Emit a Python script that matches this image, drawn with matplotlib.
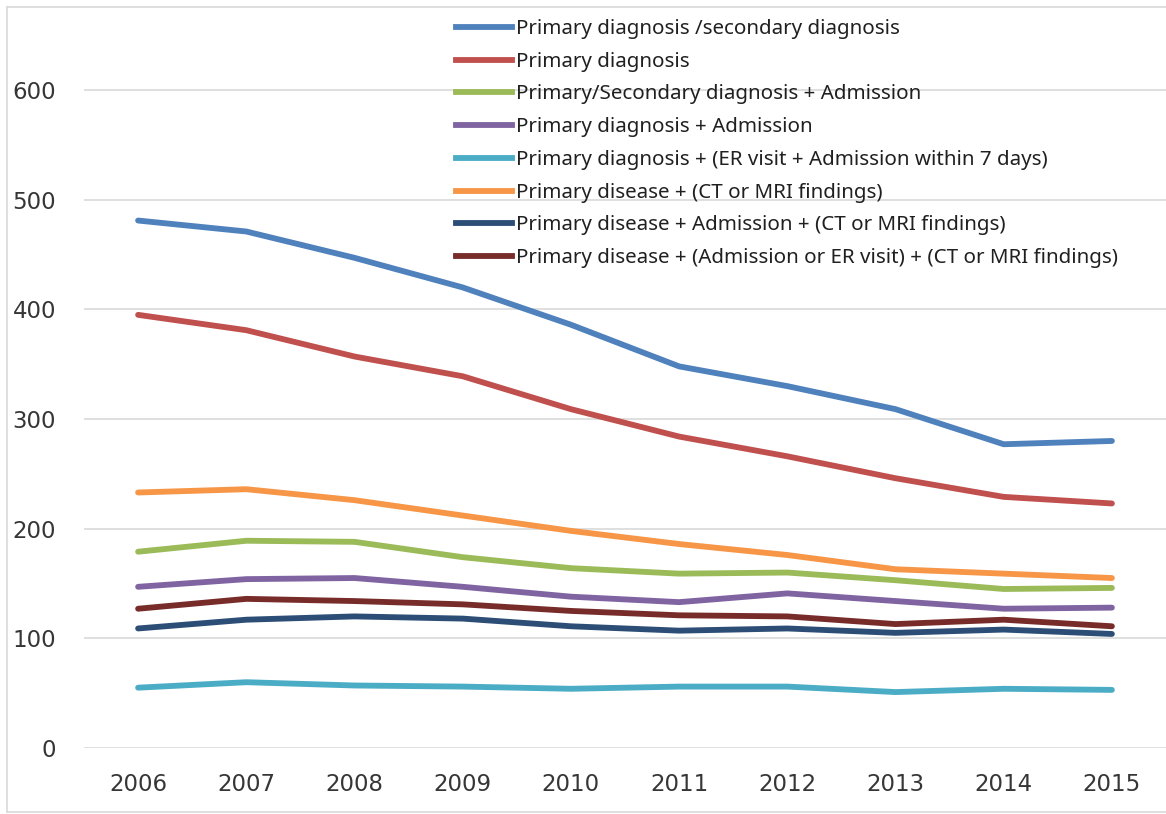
import matplotlib
matplotlib.use("Agg")
import matplotlib.pyplot as plt
from matplotlib.lines import Line2D

years = ["2006", "2007", "2008", "2009", "2010", "2011", "2012", "2013", "2014", "2015"]

prim_sec = [481, 471, 447, 420, 386, 348, 330, 309, 277, 280]
prim = [395, 381, 357, 339, 309, 284, 266, 246, 229, 223]
prim_sec_adm = [179, 189, 188, 174, 164, 159, 160, 153, 145, 146]
prim_adm = [147, 154, 155, 147, 138, 133, 141, 134, 127, 128]
prim_er = [55, 60, 57, 56, 54, 56, 56, 51, 54, 53]
dis_ct = [233, 236, 226, 212, 198, 186, 176, 163, 159, 155]
dis_adm_ct = [109, 117, 120, 118, 111, 107, 109, 105, 108, 104]
dis_adm_er_ct = [127, 136, 134, 131, 125, 121, 120, 113, 117, 111]

labels = [
    "Primary diagnosis /secondary diagnosis",
    "Primary diagnosis",
    "Primary/Secondary diagnosis + Admission",
    "Primary diagnosis + Admission",
    "Primary diagnosis + (ER visit + Admission within 7 days)",
    "Primary disease + (CT or MRI findings)",
    "Primary disease + Admission + (CT or MRI findings)",
    "Primary disease + (Admission or ER visit) + (CT or MRI findings)",
]
series = [prim_sec, prim, prim_sec_adm, prim_adm, prim_er, dis_ct, dis_adm_ct, dis_adm_er_ct]
colors = ["#4F81BD", "#C0504D", "#9BBB59", "#8064A2", "#4BACC6", "#F79646", "#2C4D75", "#772C2A"]

W, H = 1166, 814
fig = plt.figure(figsize=(W / 100, H / 100), dpi=100)
ax = fig.add_axes([84 / W, 1 - 748 / H, (1166 - 84) / W, (748 - 10) / H])

x = list(range(len(years)))
for vals, c, lab in zip(series, colors, labels):
    ax.plot(x, vals, color=c, lw=4.2, solid_capstyle="round", solid_joinstyle="round", label=lab, zorder=3)

ax.set_xlim(-0.5, len(years) - 0.5)
ax.set_ylim(0, 673)
ax.set_yticks(range(0, 700, 100))
ax.set_xticks(x)
ax.set_xticklabels(years)
ax.tick_params(length=0, labelsize=16.5, labelcolor="#363636")
ax.tick_params(axis="y", pad=20)
ax.tick_params(axis="x", pad=18)
ax.grid(axis="y", color="#D9D9D9", lw=1.2)
ax.set_axisbelow(True)
for s in ax.spines.values():
    s.set_visible(False)

handles = [Line2D([], [], color=c, lw=4.2) for c in colors]
leg = ax.legend(handles, labels, loc="upper left", bbox_to_anchor=(456 / W, 1 - 19 / H),
                bbox_transform=fig.transFigure, frameon=False,
                handlelength=2.7, handletextpad=0.2, labelspacing=0.62,
                borderaxespad=0, borderpad=0, prop={"family": "Noto Sans", "size": 14.8})
for t in leg.get_texts():
    t.set_color("#202020")

# light chart frame
fig.add_artist(Line2D([7 / W, 7 / W], [1 - 7 / H, 1 - 812 / H], color="#D9D9D9", lw=1.2, transform=fig.transFigure))
fig.add_artist(Line2D([7 / W, 1], [1 - 7 / H, 1 - 7 / H], color="#D9D9D9", lw=1.2, transform=fig.transFigure))
fig.add_artist(Line2D([7 / W, 1], [1 - 812 / H, 1 - 812 / H], color="#D9D9D9", lw=1.2, transform=fig.transFigure))

fig.savefig("out.png", dpi=100)
